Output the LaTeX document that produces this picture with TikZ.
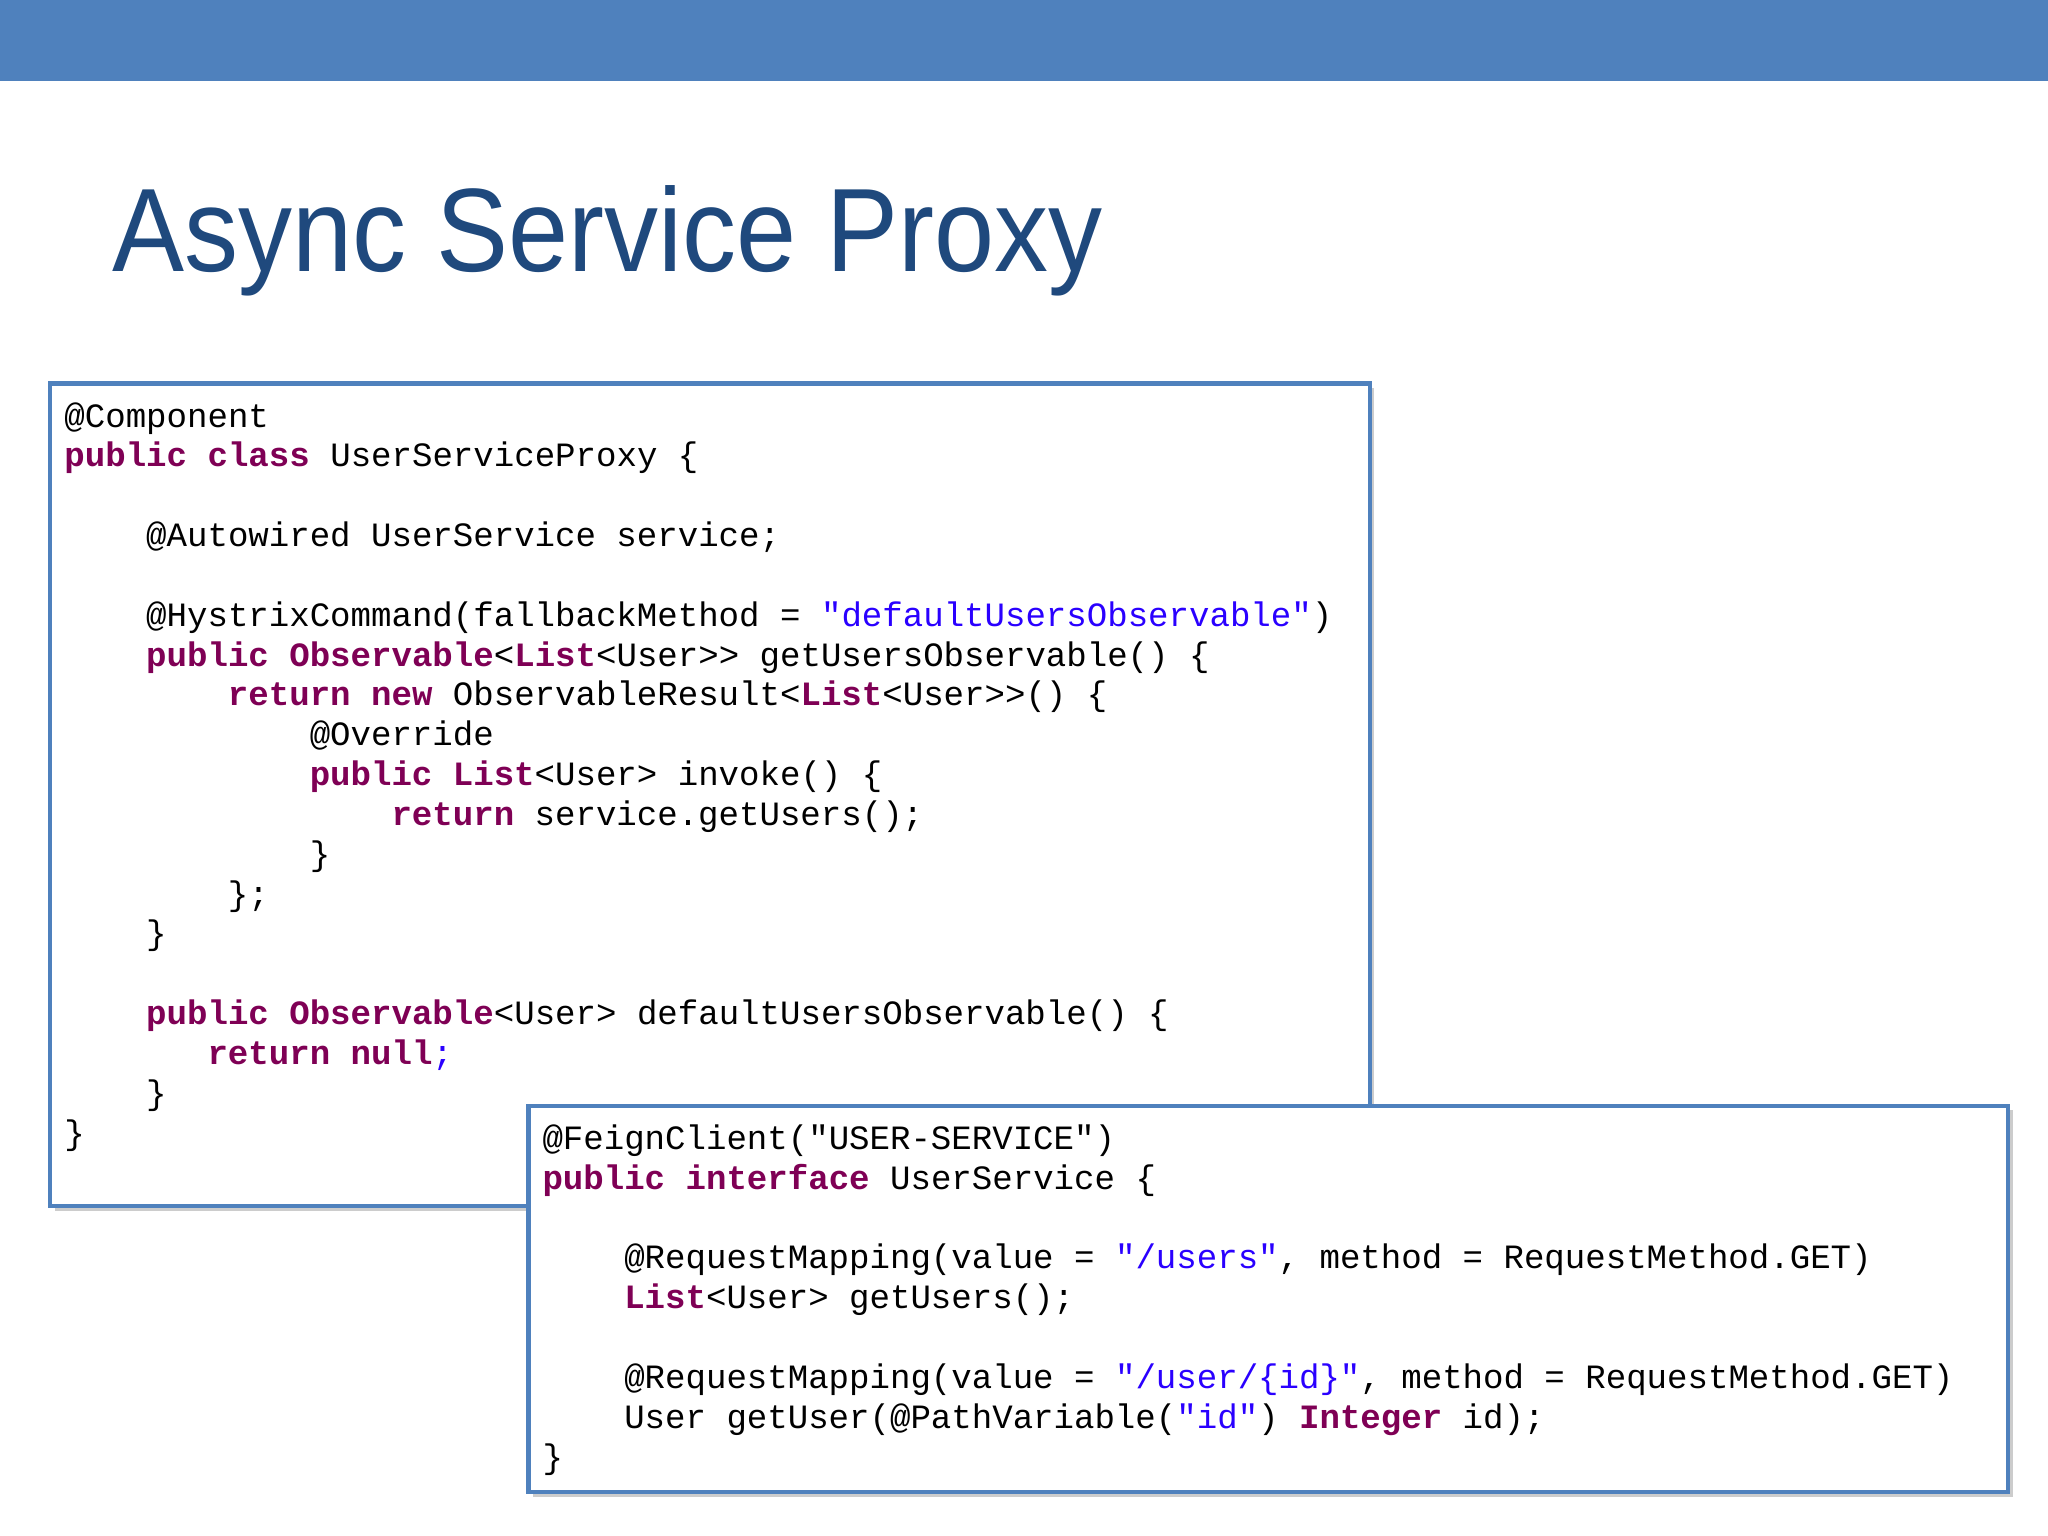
\documentclass[tikz,border=0pt]{standalone}
\usepackage{fontspec}
\setmainfont{Liberation Sans}
\setmonofont{Liberation Mono}
\definecolor{bar}{RGB}{79,129,189}
\definecolor{ttl}{RGB}{31,73,125}
\definecolor{kwc}{RGB}{127,0,85}
\definecolor{stc}{RGB}{42,0,255}
\newcommand{\kw}[1]{\textbf{\color{kwc}#1}}
\newcommand{\str}[1]{{\color{stc}#1}}
\tikzset{code/.style={anchor=base west,inner sep=0pt,font=\ttfamily\fontsize{14.85pt}{17pt}\selectfont},
 box/.style={draw=bar,line width=1.8pt,fill=white,drop shadow={shadow xshift=2pt,shadow yshift=-2pt,opacity=0.4}}}
\usetikzlibrary{shadows}
\begin{document}
\begin{tikzpicture}[x=0.02cm,y=-0.02cm]
\useasboundingbox (0,0) rectangle (1568,1176);
\fill[bar] (0,0) rectangle (1568,62);
\node[anchor=base west,inner sep=0pt,text=ttl,font=\fontsize{51.7pt}{60pt}\selectfont,xscale=0.91] (title) at (86,208) {Async Service Proxy};
\node[box,minimum width=1010*0.02cm,minimum height=630*0.02cm,anchor=north west] (b1) at (37,292) {};
\foreach \n/\t/\i in {0/{@Component}/0,1/{\kw{public class} UserServiceProxy \{}/0,3/{@Autowired UserService service;}/4,
5/{@HystrixCommand(fallbackMethod = \str{"defaultUsersObservable"})}/4,
6/{\kw{public Observable}<\kw{List}<User>> getUsersObservable() \{}/4,
7/{\kw{return new} ObservableResult<\kw{List}<User>>() \{}/8,
8/{@Override}/12,9/{\kw{public List}<User> invoke() \{}/12,10/{\kw{return} service.getUsers();}/16,
11/{\}}/12,12/{\};}/8,13/{\}}/4,15/{\kw{public Observable}<User> defaultUsersObservable() \{}/4,
16/{\kw{return null}\str{;}}/7,17/{\}}/4,18/{\}}/0}
 \node[code] (a\n) at (49+15.65*\i,327+30.5*\n) {\t};
\node[box,minimum width=1133*0.02cm,minimum height=296*0.02cm,anchor=north west] (b2) at (403,845) {};
\foreach \n/\t/\i in {0/{@FeignClient("USER-SERVICE")}/0,1/{\kw{public interface} UserService \{}/0,
3/{@RequestMapping(value = \str{"/users"}, method = RequestMethod.GET)}/4,
4/{\kw{List}<User> getUsers();}/4,
6/{@RequestMapping(value = \str{"/user/\{id\}"}, method = RequestMethod.GET)}/4,
7/{User getUser(@PathVariable(\str{"id"}) \kw{Integer} id);}/4,8/{\}}/0}
 \node[code] (c\n) at (415+15.65*\i,880+30.5*\n) {\t};
\end{tikzpicture}
\end{document}
